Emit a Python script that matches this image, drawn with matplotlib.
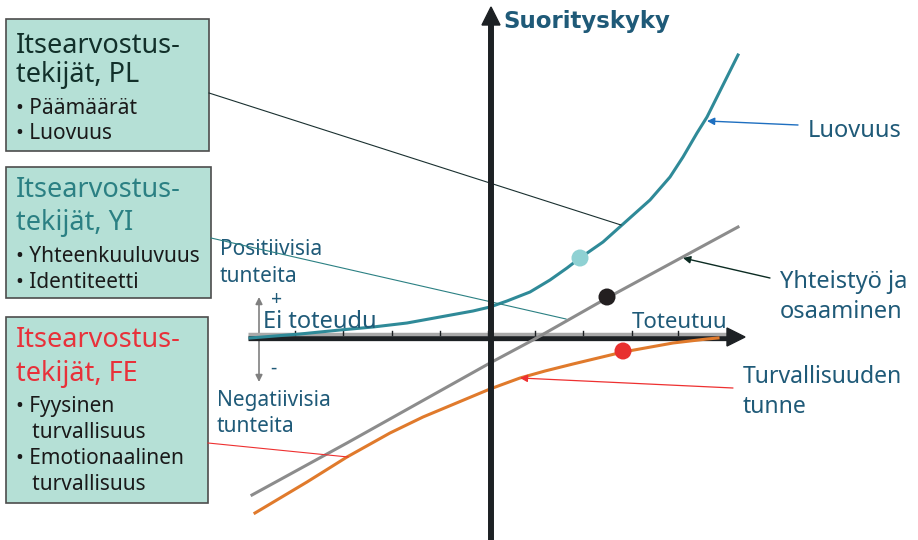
import matplotlib.pyplot as plt
from matplotlib.patches import Rectangle, Polygon

plt.rcParams['font.family'] = ['Noto Sans', 'DejaVu Sans']

# curves (pixel coordinates, y down)
luovuus_x = [250, 300, 340, 373, 407, 440, 473, 490, 507, 530, 550, 567, 580,
             603, 622, 650, 670, 683, 697, 707, 717, 727, 738]
luovuus_y = [338, 334, 330, 327, 323, 317, 311, 307, 301, 292, 280, 268, 258,
             242, 225, 200, 177, 157, 133, 117, 97, 77, 55]
yhteistyo_x = [252, 347, 490, 533, 607, 738]
yhteistyo_y = [495, 443, 363, 340, 298, 227]
turva_x = [255, 307, 347, 390, 423, 490, 520, 545, 573, 623, 673, 707, 718]
turva_y = [513, 482, 457, 433, 417, 389, 378, 371, 364, 352, 343, 339, 338]

# highlighted points
marker_x = [580, 607, 623]
marker_y = [258, 297, 351]
marker_colors = ['#8fd1d3', '#231f20', '#e8302f']

tick_x = [295, 343, 392, 440, 488, 535, 583, 632, 678]

label_color = '#1f5a78'
teal = '#2f8a98'
box_fill = '#b5e0d6'

box_titles = ['Itsearvostus-\ntekijät, PL', 'Itsearvostus-\ntekijät, YI', 'Itsearvostus-\ntekijät, FE']
box_title_colors = ['#12302a', '#2b8083', '#e8313a']
box_items = [['• Päämäärät', '• Luovuus'],
             ['• Yhteenkuuluvuus', '• Identiteetti'],
             ['• Fyysinen', '   turvallisuus', '• Emotionaalinen', '   turvallisuus']]

fig = plt.figure(figsize=(9.18, 5.4), dpi=100)
ax = fig.add_axes([0, 0, 1, 1])
ax.set_xlim(0, 918)
ax.set_ylim(540, 0)
ax.axis('off')

# boxes: (x0, y0, x1, y1), title baselines, item baselines
boxes = [(6, 19, 209, 151), (6, 167, 211, 298), (6, 317, 208, 503)]
title_base = [(53, 82), (197, 230), (347, 381)]
item_base = [(114, 139), (262, 288), (412, 438, 464, 490)]

for i in range(3):
    x0, y0, x1, y1 = boxes[i]
    ax.add_patch(Rectangle((x0, y0), x1 - x0, y1 - y0, facecolor=box_fill,
                           edgecolor='#4d4d4d', lw=1.2, zorder=2))
    for line, yb in zip(box_titles[i].split('\n'), title_base[i]):
        ax.text(16, yb, line, fontsize=19.5, color=box_title_colors[i],
                va='baseline', ha='left', zorder=3)
    for line, yb in zip(box_items[i], item_base[i]):
        ax.text(16, yb, line, fontsize=15, color='#1a1a1a',
                va='baseline', ha='left', zorder=3)

# connector lines from the boxes
ax.plot([209, 621], [93, 225], color='#1a3030', lw=0.8, zorder=4)
ax.plot([211, 566], [238, 319], color='#2b8083', lw=0.8, zorder=4)
ax.plot([208, 348], [443, 457], color='#ee3030', lw=0.8, zorder=4)

# horizontal axis
ax.plot([248, 728], [338, 338], color='#1d2124', lw=3.8, solid_capstyle='butt', zorder=1)
ax.plot([248, 728], [333.5, 333.5], color='#a9a9a9', lw=2.5, solid_capstyle='butt', zorder=1)
for tx in tick_x:
    ax.plot([tx, tx], [331, 335], color='#1d2124', lw=1.0, zorder=1)
ax.add_patch(Polygon([(727, 328), (727, 346), (745, 337)], closed=True,
                     color='#1d2124', zorder=1))

# curves
ax.plot(luovuus_x, luovuus_y, color=teal, lw=2.2, zorder=3)
ax.plot(yhteistyo_x, yhteistyo_y, color='#8c8c8c', lw=2.2, zorder=3)
ax.plot(turva_x, turva_y, color='#e07a2c', lw=2.2, zorder=3)
ax.scatter(marker_x, marker_y, s=150, c=marker_colors, zorder=5, linewidths=0)

# vertical axis
ax.plot([491, 491], [540, 24], color='#1d2124', lw=4.3, solid_capstyle='butt', zorder=4)
ax.add_patch(Polygon([(482, 25), (500, 25), (491, 7)], closed=True,
                     color='#1d2124', zorder=4))
ax.text(503, 28, 'Suorityskyky', fontsize=16.5, fontweight='bold',
        family='DejaVu Sans', color=label_color, va='baseline', ha='left')

# +/- arrow
ax.annotate('', xy=(259, 297), xytext=(259, 338),
            arrowprops=dict(arrowstyle='-|>', color='#808080', lw=1.2,
                            mutation_scale=10, shrinkA=0, shrinkB=0), zorder=0)
ax.annotate('', xy=(259, 382), xytext=(259, 338),
            arrowprops=dict(arrowstyle='-|>', color='#808080', lw=1.2,
                            mutation_scale=10, shrinkA=0, shrinkB=0), zorder=0)
ax.text(277, 300, '+', fontsize=14, color=label_color, ha='center', va='center')
ax.text(273, 369, '-', fontsize=14, color=label_color, ha='center', va='center')

ax.text(220, 255, 'Positiivisia', fontsize=15, color=label_color, va='baseline')
ax.text(220, 282, 'tunteita', fontsize=15, color=label_color, va='baseline')
ax.text(217, 406, 'Negatiivisia', fontsize=15, color=label_color, va='baseline')
ax.text(217, 432, 'tunteita', fontsize=15, color=label_color, va='baseline')
ax.text(263, 328, 'Ei toteudu', fontsize=17, color=label_color, va='baseline', zorder=6)
ax.text(632, 328, 'Toteutuu', fontsize=16, color=label_color, va='baseline', zorder=6)

# curve labels with pointers
ax.text(808, 137, 'Luovuus', fontsize=17, color=label_color, va='baseline')
ax.annotate('', xy=(707, 121), xytext=(798, 125),
            arrowprops=dict(arrowstyle='-|>', color='#1e6fc0', lw=1.0,
                            mutation_scale=11, shrinkA=0, shrinkB=0))
ax.text(780, 288, 'Yhteistyö ja', fontsize=17, color=label_color, va='baseline')
ax.text(780, 318, 'osaaminen', fontsize=17, color=label_color, va='baseline')
ax.annotate('', xy=(683, 258), xytext=(770, 278),
            arrowprops=dict(arrowstyle='-|>', color='#0b2b22', lw=1.0,
                            mutation_scale=11, shrinkA=0, shrinkB=0))
ax.text(743, 383, 'Turvallisuuden', fontsize=16.5, color=label_color, va='baseline')
ax.text(743, 413, 'tunne', fontsize=16.5, color=label_color, va='baseline')
ax.annotate('', xy=(520, 378), xytext=(733, 388),
            arrowprops=dict(arrowstyle='-|>', color='#ee3030', lw=0.9,
                            mutation_scale=11, shrinkA=0, shrinkB=0))

fig.savefig('out.png', dpi=100)
